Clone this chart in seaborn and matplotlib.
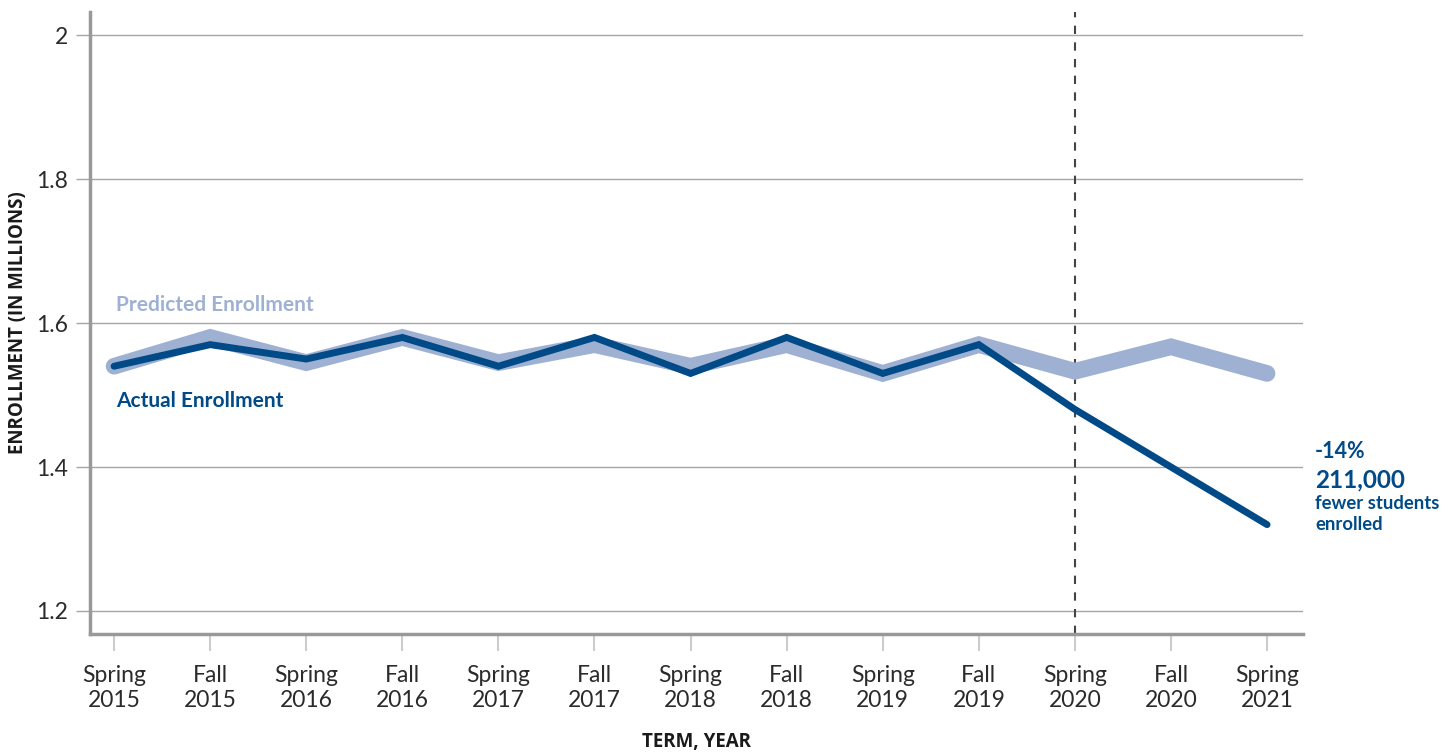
import numpy as np
import pandas as pd
import matplotlib
matplotlib.use('Agg')
import matplotlib.pyplot as plt
import seaborn as sns

# Data (enrollment in millions)
terms = ['Spring\n2015', 'Fall\n2015', 'Spring\n2016', 'Fall\n2016', 'Spring\n2017', 'Fall\n2017',
         'Spring\n2018', 'Fall\n2018', 'Spring\n2019', 'Fall\n2019', 'Spring\n2020', 'Fall\n2020',
         'Spring\n2021']
predicted = [1.54, 1.58, 1.545, 1.58, 1.545, 1.57, 1.54, 1.57, 1.53, 1.57, 1.533, 1.567, 1.53]
actual = [1.54, 1.57, 1.55, 1.58, 1.54, 1.58, 1.53, 1.58, 1.53, 1.57, 1.48, 1.40, 1.32]
y_ticks = [1.2, 1.4, 1.6, 1.8, 2.0]
y_tick_labels = ['1.2', '1.4', '1.6', '1.8', '2']

ACTUAL_COLOR = '#004a87'
PREDICTED_COLOR = '#9fb1d3'
GRID_COLOR = '#a6a6a6'
TEXT_COLOR = '#2b2b2b'

df = pd.DataFrame({'idx': np.arange(len(terms)), 'Predicted': predicted, 'Actual': actual})

sns.set_style('white')
plt.rcParams['font.family'] = ['Lato', 'DejaVu Sans']

fig = plt.figure(figsize=(14.55, 7.53), dpi=100)
ax = fig.add_axes([0.0619, 0.158, 0.8337, 0.826])

sns.lineplot(data=df, x='idx', y='Predicted', ax=ax, color=PREDICTED_COLOR, linewidth=12,
             solid_capstyle='round', solid_joinstyle='miter', zorder=3)
sns.lineplot(data=df, x='idx', y='Actual', ax=ax, color=ACTUAL_COLOR, linewidth=5,
             solid_capstyle='round', solid_joinstyle='miter', zorder=4)

ax.set_xlim(-0.25, 12.375)
ax.set_ylim(1.168, 2.032)

for yv in y_ticks:
    ax.axhline(yv, color=GRID_COLOR, linewidth=1, zorder=1)

ax.axvline(10, color='#444444', linewidth=1.5, linestyle=(0, (4, 4)), zorder=2)

ax.set_yticks(y_ticks)
ax.set_yticklabels(y_tick_labels)
ax.set_xticks(range(len(terms)))
ax.set_xticklabels(terms, linespacing=1.25)

ax.tick_params(axis='x', length=12, width=1.5, color='#cccccc', pad=10, labelsize=16.5,
               labelcolor=TEXT_COLOR, direction='out')
ax.tick_params(axis='y', length=10, width=1, color=GRID_COLOR, pad=6, labelsize=16.5,
               labelcolor=TEXT_COLOR, direction='out')
ax.xaxis.set_ticks_position('bottom')
ax.yaxis.set_ticks_position('left')

for side in ['top', 'right']:
    ax.spines[side].set_visible(False)
for side in ['left', 'bottom']:
    ax.spines[side].set_color('#999999')
    ax.spines[side].set_linewidth(2.5)

label_font = dict(fontsize=13.5, fontweight='bold', color='#1a1a1a',
                  family=['Open Sans', 'DejaVu Sans'])
ax.set_xlabel('TERM, YEAR', **label_font)
ax.set_ylabel('ENROLLMENT (IN MILLIONS)', **label_font)
ax.xaxis.set_label_coords(0.5, -0.174)
ax.yaxis.set_label_coords(-0.0594, 0.5)
ax.xaxis.label.set_va('center')
ax.yaxis.label.set_va('center')

# series labels
ax.text(0.02, 1.625, 'Predicted Enrollment', color=PREDICTED_COLOR, fontsize=15,
        fontweight='bold', va='center', ha='left')
ax.text(0.02, 1.492, 'Actual Enrollment', color=ACTUAL_COLOR, fontsize=15,
        fontweight='bold', va='center', ha='left')

# drop annotation
ax.text(12.5, 1.422, '-14%', color=ACTUAL_COLOR, fontsize=15.5, fontweight='bold',
        va='center', ha='left', clip_on=False)
ax.text(12.5, 1.382, '211,000', color=ACTUAL_COLOR, fontsize=17.5, fontweight='bold',
        va='center', ha='left', clip_on=False)
ax.text(12.5, 1.350, 'fewer students', color=ACTUAL_COLOR, fontsize=13.3, fontweight='bold',
        va='center', ha='left', clip_on=False)
ax.text(12.5, 1.320, 'enrolled', color=ACTUAL_COLOR, fontsize=13.3, fontweight='bold',
        va='center', ha='left', clip_on=False)

fig.savefig('out.png', dpi=100, facecolor='white')
